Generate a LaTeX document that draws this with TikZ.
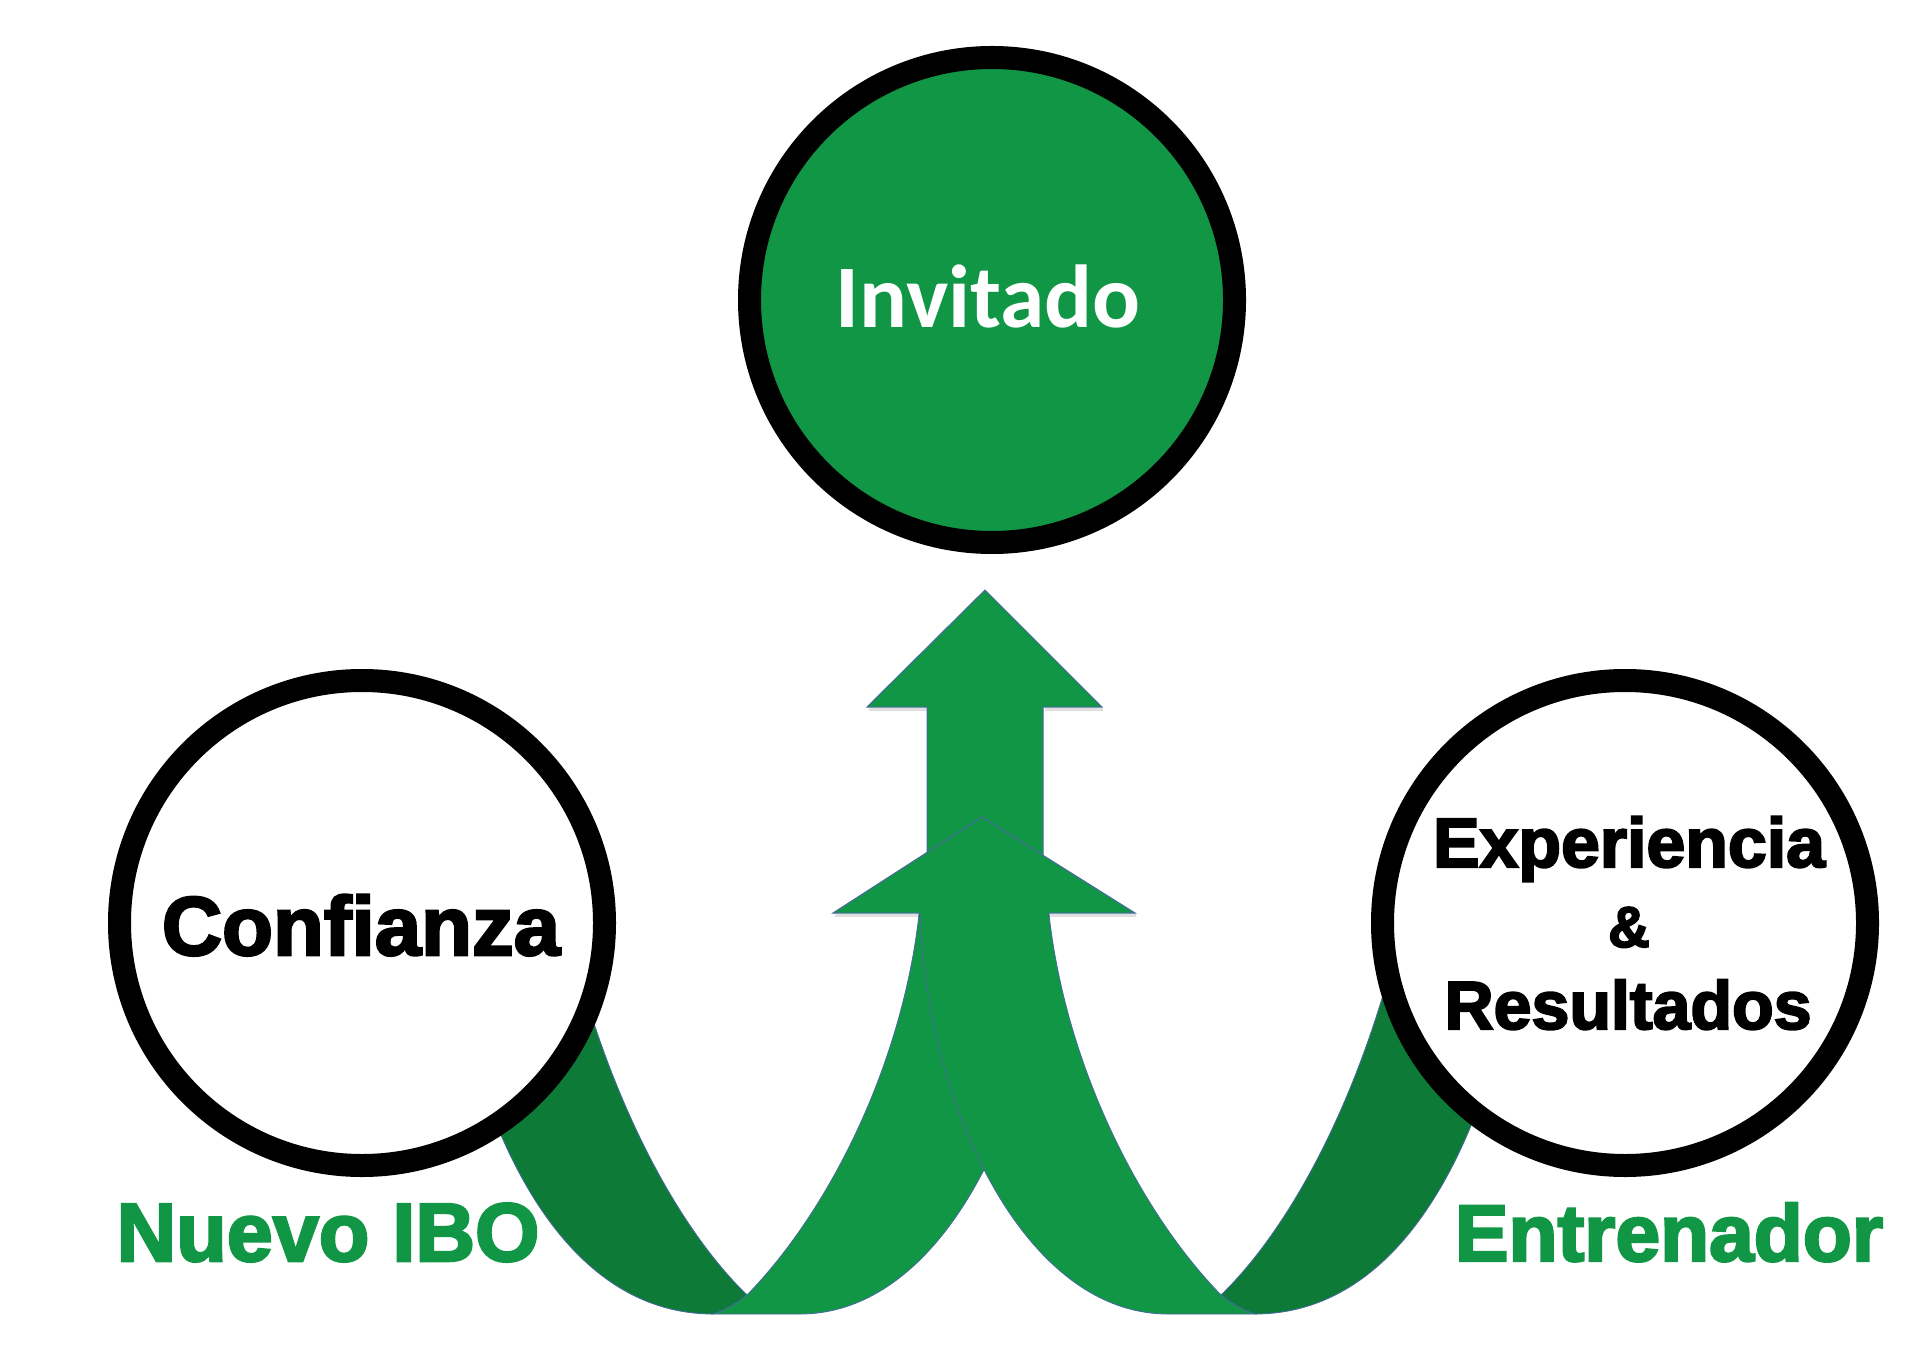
\documentclass[tikz,border=0pt]{standalone}
\usepackage{fontspec}
\setmainfont{Carlito}
\newfontfamily\heavy{Liberation Sans Bold}[FakeBold=3]
\usepackage{graphicx}
\definecolor{gLight}{RGB}{17,150,70}
\definecolor{gDark}{RGB}{14,122,56}
\definecolor{edgeBlue}{RGB}{70,105,160}
\newcommand\ribbonshape{%
  \fill[gDark, draw=edgeBlue, line width=0.4pt]
    (480,1080) .. controls (530,1230) and (610,1314) .. (713,1314)
    .. controls (726,1310) and (737,1303) .. (747,1295)
    .. controls (680,1230) and (615,1110) .. (575,960)
    -- cycle;
  \fill[gLight, draw=edgeBlue, line width=0.4pt]
    (747,1295) .. controls (830,1210) and (905,1060) .. (920,905)
    -- (1048,905)
    .. controls (1045,1090) and (950,1314) .. (800,1314)
    -- (713,1314)
    .. controls (726,1310) and (737,1303) .. (747,1295)
    -- cycle;
}
\begin{document}
\begin{tikzpicture}[x=0.5pt, y=-0.5pt,
  ring/.style={circle, draw=black, line width=11.5pt, minimum size=242.5pt, inner sep=0pt},
  arrowfill/.style={fill=gLight},
  arrowedge/.style={draw=edgeBlue, line width=0.5pt},
  barbshadow/.style={draw=black, opacity=0.12, line width=1.5pt},
  label/.style={inner sep=0pt, anchor=base}]
\useasboundingbox (0,0) rectangle (1920,1368);
\fill[white] (0,0) rectangle (1920,1368);

% top straight arrow (behind)
\draw[barbshadow] (869,709) -- (927,709);
\draw[barbshadow] (1045,709) -- (1103,709);
\fill[arrowfill] (985,590) -- (1102,707) -- (1043,707) -- (1043,900) -- (927,900) -- (927,707) -- (867,707) -- cycle;
\draw[arrowedge] (1043,900) -- (1043,707) -- (1102,707) -- (985,590) -- (867,707) -- (927,707) -- (927,900);

% left ribbon
\ribbonshape
% right ribbon (mirror)
\begin{scope}[shift={(1968,0)}, xscale=-1]
\ribbonshape
\end{scope}

% lower arrowhead
\draw[barbshadow] (835,915) -- (920,915);
\draw[barbshadow] (1048,915) -- (1136,915);
\fill[arrowfill] (982,817) -- (1135,913) -- (833,913) -- cycle;
\draw[arrowedge] (920,913) -- (833,913) -- (982,817) -- (1135,913) -- (1048,913);

% circles
\node[ring, fill=gLight] (inv) at (992,300) {};
\node[ring, fill=white] (conf) at (362,923) {};
\node[ring, fill=white] (exp) at (1625,923) {};

% texts
\node[label, text=white] (tinv) at (988,328) {\resizebox{152.5pt}{!}{\bfseries Invitado}};
\node[label] (tconf) at (361,955) {\resizebox{199pt}{!}{\heavy Confianza}};
\node[label] (texp1) at (1629,867) {\resizebox{196pt}{!}{\heavy Experiencia}};
\node[label] (texp2) at (1629,947) {\resizebox{!}{20pt}{\heavy \&}};
\node[label] (texp3) at (1628,1029) {\resizebox{183.5pt}{!}{\heavy Resultados}};
\node[label, text=gLight] (tnuevo) at (328,1261) {\resizebox{211.5pt}{!}{\heavy Nuevo IBO}};
\node[label, text=gLight] (tentr) at (1669,1261) {\resizebox{214pt}{!}{\heavy Entrenador}};
\end{tikzpicture}
\end{document}
